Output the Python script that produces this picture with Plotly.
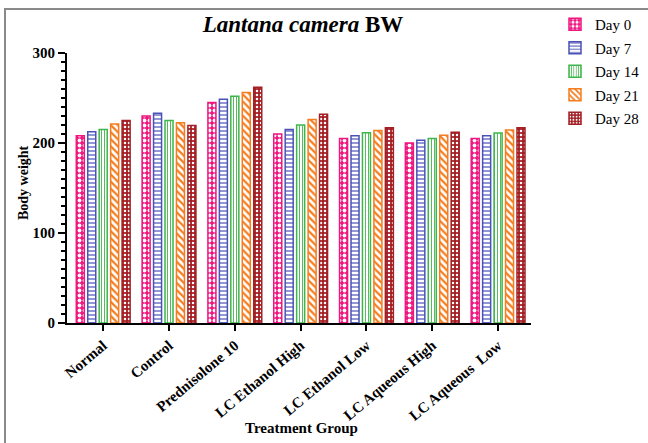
import plotly.graph_objects as go

categories = ["Normal", "Control", "Prednisolone 10", "LC Ethanol High",
              "LC Ethanol Low", "LC Aqueous High", "LC Aqueous  Low"]
series_names = ["Day 0", "Day 7", "Day 14", "Day 21", "Day 28"]
day0 = [208, 230, 245, 210, 205, 200, 205]
day7 = [212.5, 233, 248.5, 215, 208, 203, 208]
day14 = [215, 225, 252, 220, 211.5, 205, 211]
day21 = [221, 222.5, 256, 226, 214, 208.5, 214.5]
day28 = [225, 219.5, 262, 232, 217, 212, 217]
y_ticks = [0, 100, 200, 300]

series_values = [day0, day7, day14, day21, day28]
styles = [
    dict(line="#F0157F", bg="#F0157F", fg="white", shape=".", size=5, sol=0.45),
    dict(line="#4A52B8", bg="white", fg="#4A52B8", shape="-", size=4, sol=0.3),
    dict(line="#3DB54A", bg="white", fg="#3DB54A", shape="|", size=3, sol=0.3),
    dict(line="#F47D20", bg="white", fg="#F47D20", shape="\\", size=5, sol=0.45),
    dict(line="#A31F24", bg="#A31F24", fg="white", shape=".", size=4, sol=0.3),
]

fig = go.Figure()
for name, vals, st in zip(series_names, series_values, styles):
    fig.add_trace(go.Bar(
        x=list(range(len(categories))), y=vals, name=name, legendgroup=name,
        marker=dict(color=st["bg"], line=dict(color=st["line"], width=1.5),
                    pattern=dict(shape=st["shape"], fgcolor=st["fg"], bgcolor=st["bg"],
                                 size=st["size"], solidity=st["sol"], fillmode="replace")),
    ))

serif = "Liberation Serif"
fig.update_layout(
    width=648, height=443,
    margin=dict(l=67, r=117, t=53, b=120, autoexpand=False),
    paper_bgcolor="white", plot_bgcolor="white",
    barmode="group", bargap=0.13, bargroupgap=0.3,
    font=dict(family=serif, color="black"),
    title=dict(text="<b><i>Lantana camera</i> BW</b>", x=(303 / 648), xanchor="center",
               y=1 - 24 / 443, yanchor="middle", font=dict(family=serif, size=23, color="black")),
    legend=dict(x=(555 - 67) / 464, xanchor="left", y=(323 - 8) / 270, yanchor="top",
                font=dict(family=serif, size=15, color="black"), itemwidth=30,
                tracegroupgap=1, bgcolor="rgba(0,0,0,0)"),
    showlegend=True,
)
fig.update_xaxes(
    range=[-0.55, 6.5], tickmode="array", tickvals=list(range(len(categories))),
    ticktext=[f"<b>{c}</b>" for c in categories], tickangle=-40, automargin=False,
    tickfont=dict(family=serif, size=15, color="black"),
    showline=True, linecolor="black", linewidth=2, ticks="outside", ticklen=6,
    tickwidth=2, tickcolor="black", showgrid=False, zeroline=False,
)
fig.update_yaxes(
    range=[0, 300], tickmode="array", tickvals=y_ticks, automargin=False,
    ticktext=[f"<b>{t}</b>" for t in y_ticks],
    tickfont=dict(family=serif, size=15, color="black"),
    showline=True, linecolor="black", linewidth=2, ticks="outside", ticklen=7,
    tickwidth=2, tickcolor="black", showgrid=False, zeroline=False,
    minor=dict(dtick=10, ticks="outside", ticklen=4, tickwidth=1.5, tickcolor="black", showgrid=False),
)
fig.add_annotation(text="<b>Body weight</b>", textangle=-90, xref="paper", yref="paper",
                   x=(23 - 67) / 464, y=(323 - 183) / 270, xanchor="center", yanchor="middle",
                   showarrow=False, font=dict(family=serif, size=14, color="black"))
fig.add_annotation(text="<b>Treatment Group</b>", xref="paper", yref="paper",
                   x=(301 - 67) / 464, y=(323 - 428) / 270, xanchor="center", yanchor="middle",
                   showarrow=False, font=dict(family=serif, size=15, color="black"))
fig.add_shape(type="rect", xref="paper", yref="paper",
              x0=(5 - 67) / 464, x1=(660 - 67) / 464, y0=(323 - 460) / 270, y1=(323 - 9) / 270,
              line=dict(color="#8a8a8a", width=2), fillcolor="rgba(0,0,0,0)", layer="below")
fig.write_html("out.html", config={"displayModeBar": False},
               post_script="document.body.style.margin='0';document.body.style.overflow='hidden';")
